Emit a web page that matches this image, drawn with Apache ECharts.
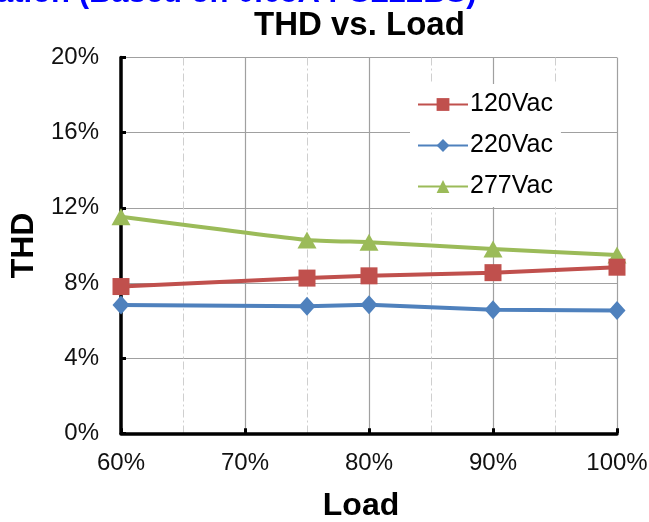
<!DOCTYPE html>
<html>
<head>
<meta charset="utf-8">
<script src="https://cdn.jsdelivr.net/npm/echarts@6/dist/echarts.min.js"></script>
<style>
html,body{margin:0;padding:0;background:#fff;}
#chart{width:649px;height:522px;}
</style>
</head>
<body>
<div id="chart"></div>
<script>
const loads = [60, 75, 80, 90, 100];
const thd120 = [7.81, 8.26, 8.38, 8.55, 8.84];
const thd220 = [6.83, 6.76, 6.84, 6.57, 6.53];
const thd277 = [11.53, 10.29, 10.17, 9.81, 9.49];
const seriesNames = ['120Vac', '220Vac', '277Vac'];
const titleText = 'THD vs. Load';
const topText = 'ation (Based on 0.65A PSL22BS)';

const FONT = '"Liberation Sans", Arial, sans-serif';
const pair = (ys) => loads.map((x, i) => [x, ys[i]]);

const chart = echarts.init(document.getElementById('chart'), null, {renderer: 'canvas'});
chart.setOption({
  animation: false,
  backgroundColor: '#fff',
  title: {
    text: titleText,
    left: 249, top: 4,
    textStyle: {fontFamily: FONT, fontSize: 33, fontWeight: 'bold', color: '#000'}
  },
  graphic: [{
    type: 'text', left: -4, top: -22,
    style: {text: topText, fill: '#0000ff', font: 'bold 31px ' + FONT}
  }],
  legend: {
    orient: 'vertical',
    left: 410, top: 84,
    padding: [8, 8, 8, 7],
    backgroundColor: '#fff',
    itemWidth: 50, itemHeight: 16, itemGap: 16,
    data: seriesNames,
    textStyle: {fontFamily: FONT, fontSize: 25, color: '#000', padding: [0, 0, 0, -3]}
  },
  grid: {left: 121, right: 32, top: 57.5, bottom: 88.7, containLabel: false, outerBoundsMode: 'none'},
  xAxis: {
    type: 'value', min: 60, max: 100, interval: 10,
    name: 'Load', nameLocation: 'middle', nameGap: 57,
    nameTextStyle: {fontFamily: FONT, fontSize: 32, fontWeight: 'bold', color: '#000', padding: [0, 16, 0, 0]},
    axisLine: {show: true, lineStyle: {color: '#000', width: 3.5}},
    axisTick: {show: true, inside: true, length: 5, lineStyle: {color: '#000', width: 3}},
    axisLabel: {formatter: '{value}%', fontFamily: FONT, fontSize: 24, color: '#111', margin: 18},
    splitLine: {show: true, lineStyle: {color: '#a0a0a0', width: 1.2}},
    minorTick: {show: false, splitNumber: 2},
    minorSplitLine: {show: true, lineStyle: {color: '#cfcfcf', width: 1, type: [8, 3, 2, 3]}}
  },
  yAxis: {
    type: 'value', min: 0, max: 20, interval: 4,
    name: 'THD', nameLocation: 'middle', nameGap: 73, nameRotate: 90,
    nameTextStyle: {fontFamily: FONT, fontSize: 32, fontWeight: 'bold', color: '#000'},
    axisLine: {show: true, lineStyle: {color: '#000', width: 3.5}},
    axisTick: {show: true, inside: true, length: 5, lineStyle: {color: '#000', width: 3}},
    axisLabel: {formatter: '{value}%', fontFamily: FONT, fontSize: 24, color: '#111', margin: 22},
    splitLine: {show: true, lineStyle: {color: '#a0a0a0', width: 1.2}}
  },
  series: [
    {name: seriesNames[0], type: 'line', data: pair(thd120), z: 4,
     symbol: 'rect', symbolSize: 17,
     lineStyle: {color: '#c0504d', width: 4}, itemStyle: {color: '#c0504d'}},
    {name: seriesNames[1], type: 'line', data: pair(thd220), z: 3,
     symbol: 'diamond', symbolSize: [17, 19],
     lineStyle: {color: '#4f81bd', width: 4}, itemStyle: {color: '#4f81bd'}},
    {name: seriesNames[2], type: 'line', data: pair(thd277), z: 2,
     symbol: 'triangle', symbolSize: [19, 17], smooth: 0.15,
     lineStyle: {color: '#9bbb59', width: 4}, itemStyle: {color: '#9bbb59'}}
  ]
});
</script>
</body>
</html>
